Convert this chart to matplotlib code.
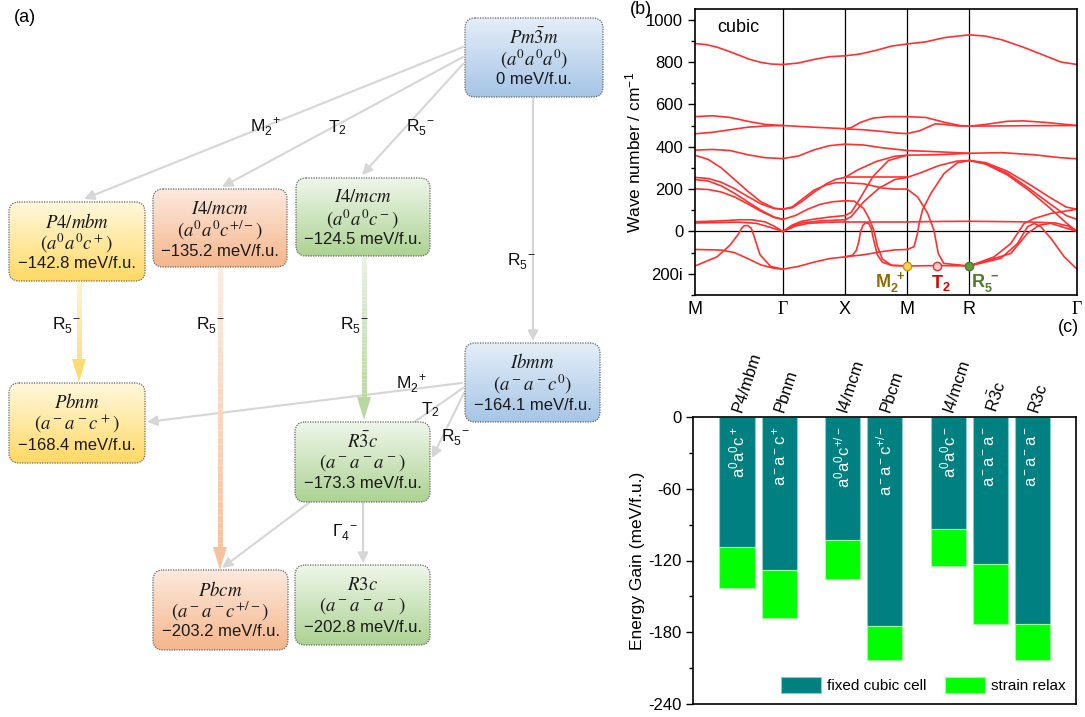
import numpy as np
import matplotlib
matplotlib.use("Agg")
import matplotlib.pyplot as plt
from matplotlib.patches import FancyBboxPatch, FancyArrowPatch, Polygon
from matplotlib.collections import LineCollection
from matplotlib.colors import LinearSegmentedColormap

plt.rcParams['font.family'] = ['Liberation Sans', 'DejaVu Sans']
plt.rcParams['mathtext.fontset'] = 'custom'
plt.rcParams['mathtext.rm'] = 'Liberation Sans'
plt.rcParams['mathtext.it'] = 'Liberation Sans:italic'
plt.rcParams['mathtext.bf'] = 'Liberation Sans:bold'
plt.rcParams['axes.unicode_minus'] = False

# ---------------- data, panel (a)
phase_names = [r'$Pm\bar{3}m$', r'$P4/mbm$', r'$I4/mcm$', r'$I4/mcm$', r'$Ibmm$',
               r'$Pbnm$', r'$R\bar{3}c$', r'$Pbcm$', r'$R3c$']
phase_tilts = [r'$(a^0a^0a^0)$', r'$(a^0a^0c^+)$', r'$(a^0a^0c^{+/-})$', r'$(a^0a^0c^-)$',
               r'$(a^-a^-c^0)$', r'$(a^-a^-c^+)$', r'$(a^-a^-a^-)$', r'$(a^-a^-c^{+/-})$',
               r'$(a^-a^-a^-)$']
phase_energy = [0, -142.8, -135.2, -124.5, -164.1, -168.4, -173.3, -203.2, -202.8]
phase_color = ['blue', 'yellow', 'orange', 'green', 'blue', 'yellow', 'green', 'orange', 'green']

# ---------------- data, panel (b): bands per path segment, (fraction, cm-1)
k_sym = [0, 0.7071, 1.2071, 1.7071, 2.2071, 3.0731]
k_labels = ['M', 'Γ', 'X', 'M', 'R', 'Γ']

seg_M_G = [
    [(0, 887), (0.125, 882), (0.25, 870), (0.375, 852), (0.5, 832), (0.625, 812), (0.75, 798), (0.875, 790), (1, 788)],
    [(0, 542), (0.2, 546), (0.4, 538), (0.6, 520), (0.8, 505), (1, 500)],
    [(0, 461), (0.2, 468), (0.4, 480), (0.6, 492), (0.8, 498), (1, 500)],
    [(0, 384), (0.2, 387), (0.4, 382), (0.6, 362), (0.8, 348), (1, 344)],
    [(0, 360), (0.15, 340), (0.3, 300), (0.45, 245), (0.6, 190), (0.75, 140), (0.9, 110), (1, 105)],
    [(0, 255), (0.15, 250), (0.3, 232), (0.45, 202), (0.6, 165), (0.75, 130), (0.9, 108), (1, 105)],
    [(0, 245), (0.15, 238), (0.3, 215), (0.45, 180), (0.6, 140), (0.75, 100), (0.9, 68), (1, 57)],
    [(0, 201), (0.15, 198), (0.3, 186), (0.45, 163), (0.6, 130), (0.75, 95), (0.9, 66), (1, 57)],
    [(0, 46), (0.3, 50), (0.5, 55), (0.65, 55), (0.8, 45), (0.9, 25), (1, 0)],
    [(0, 40), (0.3, 42), (0.5, 44), (0.7, 38), (0.85, 20), (1, 0)],
    [(0, -85), (0.3, -88), (0.45, -100), (0.6, -128), (0.75, -158), (0.9, -174), (1, -178)],
    [(0, -163), (0.25, -120), (0.4, -64), (0.5, -9), (0.53, 15), (0.56, 27), (0.6, 28), (0.64, 15),
     (0.67, -20), (0.7, -60), (0.74, -110), (0.86, -165), (1, -178)],
]
seg_G_X = [
    [(0, 788), (0.25, 795), (0.5, 812), (0.75, 825), (1, 829)],
    [(0, 500), (0.5, 492), (1, 485)],
    [(0, 344), (0.25, 356), (0.5, 385), (0.75, 405), (1, 412)],
    [(0, 105), (0.15, 112), (0.3, 140), (0.5, 185), (0.7, 225), (0.85, 246), (1, 255)],
    [(0, 105), (0.15, 116), (0.3, 150), (0.5, 195), (0.7, 220), (0.85, 230), (1, 230)],
    [(0, 57), (0.2, 75), (0.4, 105), (0.6, 128), (0.8, 140), (1, 145)],
    [(0, 0), (0.15, 30), (0.3, 48), (0.5, 58), (0.75, 68), (1, 75)],
    [(0, 0), (0.15, 25), (0.3, 40), (0.6, 50), (1, 55)],
    [(0, 0), (0.2, 25), (0.4, 38), (0.7, 43), (1, 45)],
    [(0, -178), (0.25, -165), (0.5, -145), (0.75, -128), (1, -120)],
]
seg_X_M = [
    [(0, 829), (0.25, 838), (0.5, 855), (0.75, 875), (1, 885)],
    [(0, 485), (0.1, 490), (0.25, 515), (0.45, 535), (0.7, 542), (1, 542)],
    [(0, 484), (0.3, 480), (0.6, 472), (0.85, 464), (1, 462)],
    [(0, 412), (0.3, 408), (0.6, 395), (1, 382)],
    [(0, 255), (0.2, 290), (0.5, 330), (0.8, 355), (1, 360)],
    [(0, 255), (0.5, 255), (1, 255)],
    [(0, 230), (0.3, 225), (0.6, 205), (0.8, 200), (1, 200)],
    [(0, 75), (0.1, 90), (0.25, 160), (0.45, 260), (0.7, 335), (1, 360)],
    [(0, 55), (0.1, 70), (0.3, 140), (0.55, 205), (0.8, 245), (1, 255)],
    [(0, 145), (0.15, 143), (0.3, 108), (0.38, 65), (0.43, 30), (0.47, 0), (0.52, -70), (0.6, -130), (0.75, -160), (1, -163)],
    [(0, 45), (0.5, 45), (1, 45)],
    [(0, -120), (0.3, -110), (0.6, -95), (0.8, -87), (1, -85)],
    [(0, -120), (0.12, -112), (0.18, -90), (0.22, -50), (0.25, 0), (0.29, 30), (0.33, 40), (0.38, 38),
     (0.42, 15), (0.46, -40), (0.52, -110), (0.6, -145), (0.75, -160), (1, -163)],
]
seg_M_R = [
    [(0, 885), (0.3, 895), (0.6, 915), (1, 928)],
    [(0, 542), (0.3, 538), (0.6, 515), (0.85, 500), (1, 497)],
    [(0, 462), (0.2, 475), (0.45, 508), (0.6, 505), (0.8, 498), (1, 497)],
    [(0, 382), (0.5, 376), (1, 369)],
    [(0, 360), (0.5, 362), (1, 369)],
    [(0, 255), (0.2, 275), (0.5, 310), (0.8, 332), (1, 335)],
    [(0, 200), (0.17, 162), (0.33, 85), (0.43, 6), (0.5, -104), (0.59, -151), (1, -163)],
    [(0, -85), (0.11, -72), (0.166, -9), (0.193, 38), (0.246, 101), (0.38, 179), (0.594, 274), (0.807, 324), (1, 335)],
    [(0, 45), (0.5, 47), (1, 48)],
    [(0, -163), (0.5, -161), (1, -163)],
]
seg_R_G = [
    [(0, 928), (0.15, 922), (0.3, 905), (0.5, 870), (0.7, 830), (0.85, 800), (1, 788)],
    [(0, 497), (0.15, 505), (0.35, 520), (0.5, 522), (0.7, 515), (1, 500)],
    [(0, 497), (0.5, 499), (1, 500)],
    [(0, 369), (0.3, 372), (0.6, 362), (0.85, 348), (1, 343)],
    [(0, 335), (0.15, 325), (0.35, 285), (0.55, 225), (0.75, 160), (0.9, 115), (1, 105)],
    [(0, 335), (0.15, 320), (0.35, 275), (0.55, 205), (0.75, 130), (0.9, 75), (1, 57)],
    [(0, 335), (0.15, 318), (0.35, 268), (0.55, 195), (0.75, 110), (0.9, 40), (1, 0)],
    [(0, 48), (0.4, 46), (0.55, 45), (0.8, 40), (0.92, 25), (1, 0)],
    [(0, -163), (0.23, -120), (0.385, -57), (0.447, -9), (0.509, 38), (0.602, 61), (0.758, 85), (1, 105)],
    [(0, -163), (0.292, -127), (0.447, -57), (0.54, 22), (0.602, 38), (0.665, 22), (0.758, -33), (0.882, -120), (1, -178)],
    [(0, -163), (0.385, -104), (0.54, -9), (0.65, 30), (0.758, 38), (1, 0)],
]
segments = [seg_M_G, seg_G_X, seg_X_M, seg_M_R, seg_R_G]

soft_labels = [r'M$_\mathbf{2}^{\;\;\mathbf{+}}$', r'T$_\mathbf{2}$', r'R$_\mathbf{5}^{\;\;\mathbf{-}}$']
soft_k = [1.7071, 1.95, 2.2071]
soft_E = [-163, -163, -163]

# ---------------- data, panel (c)
phases_c = ['P4/mbm', 'Pbnm', 'I4/mcm', 'Pbcm', 'I4/mcm', r'R$\bar{\mathrm{3}}$c', 'R3c']
tilts_c = [r'a$^0$a$^0$c$^+$', r'a$^-$a$^-$c$^+$', r'a$^0$a$^0$c$^{+/-}$', r'a$^-$a$^-$c$^{+/-}$',
           r'a$^0$a$^0$c$^-$', r'a$^-$a$^-$a$^-$', r'a$^-$a$^-$a$^-$']
fixed_cell = [-109, -128, -103, -175, -94, -123, -173]
strain_relax = [-142.8, -168.4, -135.2, -203.2, -124.5, -173.3, -202.8]
bar_pos = [1, 2, 3.5, 4.5, 6, 7, 8]

W, H = 1085, 717
fig = plt.figure(figsize=(W / 100, H / 100), dpi=100)

# ================= panel (a)
axa = fig.add_axes([0, 0, 640 / W, 1])
axa.axis('off')

fills = {'blue': ('#e4eef8', '#a6c5e6'), 'yellow': ('#fff8dc', '#ffd966'),
         'orange': ('#fde9de', '#f5b68b'), 'green': ('#eef6e9', '#add393')}
box_xy = [(465, 18, 603, 97), (9, 202, 145, 281), (153, 189, 287, 267), (296, 178, 430, 256),
          (465, 343, 600, 422), (9, 383, 145, 463), (295, 422, 430, 502), (153, 570, 288, 650),
          (295, 565, 430, 645)]

gray = '#d6d6d6'


def gray_arrow(p0, p1):
    axa.add_patch(FancyArrowPatch(p0, p1, arrowstyle='-|>', mutation_scale=15, color=gray,
                                  lw=1.5, shrinkA=0, shrinkB=0, zorder=1))


def grad_arrow(x, y0, y1, c0, c1):
    n = 40
    ys = np.linspace(y0, y1 - 20, n + 1)
    segs = [[(x, ys[i]), (x, ys[i + 1])] for i in range(n)]
    cmap = LinearSegmentedColormap.from_list('a', [c0, c1])
    axa.add_collection(LineCollection(segs, colors=cmap(np.linspace(0, 1, n)), linewidths=3.6,
                                      capstyle='butt', zorder=1))
    axa.add_patch(Polygon([(x - 7, y1 - 23), (x + 7, y1 - 23), (x, y1)], closed=True, fc=c1,
                          ec='none', zorder=1))


# thin arrows
gray_arrow((463, 47), (84, 199))
gray_arrow((463, 57), (222, 187))
gray_arrow((463, 64), (362, 175))
gray_arrow((533, 98), (533, 341))
gray_arrow((462, 383), (147, 422))
axa.plot([463, 413], [388, 423], color=gray, lw=1.5, zorder=1)
gray_arrow((464, 393), (432, 458))
gray_arrow((310, 502), (222, 568))
gray_arrow((363, 502), (363, 563))

# thick arrows
grad_arrow(79, 282, 382, '#fff2c6', '#ffdc70')
grad_arrow(220, 268, 570, '#fdebe0', '#f7c2a0')
grad_arrow(364, 257, 420, '#e6f1de', '#b7d9a0')

lab_kw = dict(fontsize=12.5, ha='center', va='center', color='#111111')
axa.text(265, 128, r'M$_2^{\;\;+}$', **lab_kw)
axa.text(337, 128, r'T$_2$', **lab_kw)
axa.text(420, 128, r'R$_5^{\;\;-}$', **lab_kw)
axa.text(521, 262, r'R$_5^{\;\;-}$', **lab_kw)
axa.text(66, 326, r'R$_5^{\;\;-}$', **lab_kw)
axa.text(210, 326, r'R$_5^{\;\;-}$', **lab_kw)
axa.text(354, 326, r'R$_5^{\;\;-}$', **lab_kw)
axa.text(411, 385, r'M$_2^{\;\;+}$', **lab_kw)
axa.text(430, 410, r'T$_2$', **lab_kw)
axa.text(455, 438, r'R$_5^{\;\;-}$', **lab_kw)
axa.text(345, 533, r'Γ$_4^{\;\;-}$', **lab_kw)

for (x0, y0, x1, y1), nm, tl, en, col in zip(box_xy, phase_names, phase_tilts, phase_energy, phase_color):
    patch = FancyBboxPatch((x0, y0), x1 - x0, y1 - y0, boxstyle='round,pad=0,rounding_size=10',
                           fc='none', ec='#666666', lw=0.9, ls=(0, (1, 1)), zorder=4)
    axa.add_patch(patch)
    cmap = LinearSegmentedColormap.from_list('g', fills[col])
    im = axa.imshow(np.linspace(0, 1, 64).reshape(-1, 1), cmap=cmap, extent=(x0, x1, y1, y0),
                    aspect='auto', zorder=3, interpolation='bilinear')
    im.set_clip_path(patch)
    xc = (x0 + x1) / 2
    axa.text(xc, y0 + 20, nm, fontsize=13.5, ha='center', va='center', math_fontfamily='stix',
             color='#1a1a1a', zorder=5)
    axa.text(xc, y0 + 41, tl, fontsize=13.5, ha='center', va='center', math_fontfamily='stix',
             color='#1a1a1a', zorder=5)
    etxt = '0 meV/f.u.' if en == 0 else f'{en:.1f} meV/f.u.'.replace('-', '\u2212')
    axa.text(xc, y0 + 62, etxt, fontsize=12, ha='center', va='center', color='#1a1a1a', zorder=5)

axa.set_xlim(0, 640)
axa.set_ylim(H, 0)

# ================= panel (b)
axb = fig.add_axes([695 / W, 1 - 295 / H, (1077 - 695) / W, (295 - 9) / H])
for i, seg in enumerate(segments):
    k0, k1 = k_sym[i], k_sym[i + 1]
    for band in seg:
        f, e = zip(*band)
        axb.plot(k0 + np.array(f) * (k1 - k0), e, color='#ff3030', lw=1.2, zorder=2)
for k in k_sym[1:-1]:
    axb.axvline(k, color='black', lw=0.9, zorder=1)
axb.axhline(0, color='black', lw=0.9, zorder=1)

face = ['#f8d25a', '#ffc8c8', '#5e9b3a']
edge = ['#c99a00', '#e83030', '#4a7a2a']
tcol = ['#8c6d00', '#d40000', '#4a7a2a']
for lab, k, e, fc, ec, tc, ha, dx in zip(soft_labels, soft_k, soft_E, face, edge, tcol,
                                         ['right', 'center', 'left'], [-0.02, 0.03, 0.015]):
    axb.plot(k, e, 'o', ms=6, mfc=fc, mec=ec, mew=1, zorder=4)
    axb.text(k + dx, -242, lab, color=tc, fontsize=13, fontweight='bold', ha=ha, va='center')

axb.set_xlim(k_sym[0], k_sym[-1])
axb.set_ylim(-300, 1050)
axb.set_xticks(k_sym)
axb.set_xticklabels(k_labels, fontsize=13)
for t, lab in zip(axb.get_xticklabels(), k_labels):
    if lab == 'Γ':
        t.set_fontfamily('Liberation Serif')
axb.tick_params(axis='x', length=0, pad=4)
axb.set_yticks([-200, 0, 200, 400, 600, 800, 1000])
axb.set_yticklabels(['200i', '0', '200', '400', '600', '800', '1000'], fontsize=12)
axb.set_yticks(np.arange(-300, 1001, 100), minor=True)
axb.tick_params(axis='y', which='major', length=5, width=1)
axb.tick_params(axis='y', which='minor', length=3, width=1)
axb.set_ylabel('Wave number / cm$^{-1}$', fontsize=12.5, labelpad=2)
axb.text(0.058, 0.935, 'cubic', transform=axb.transAxes, fontsize=13, va='center')
for s in axb.spines.values():
    s.set_linewidth(1.2)

# ================= panel (c)
axc = fig.add_axes([693 / W, 1 - 704 / H, (1076 - 693) / W, (704 - 417) / H])
fixed = np.array(fixed_cell)
relax = np.array(strain_relax) - fixed
axc.bar(bar_pos, fixed, width=0.83, color='#008080', edgecolor='#8ccaca', lw=0.8,
        label='fixed cubic cell', zorder=2)
axc.bar(bar_pos, relax, bottom=fixed, width=0.83, color='#00ff00', edgecolor='#9cff9c', lw=0.8,
        label='strain relax', zorder=2)
for x, t in zip(bar_pos, tilts_c):
    axc.text(x, -8, t, rotation=90, color='white', ha='center', va='top', fontsize=12, zorder=3)

axc.set_xlim(-0.04, 9.02)
axc.set_ylim(-240, 0)
axc.set_xticks(bar_pos)
axc.set_xticklabels(phases_c, rotation=72, rotation_mode='anchor', ha='left', va='center',
                    fontsize=12)
axc.xaxis.tick_top()
axc.tick_params(axis='x', length=0, pad=4)
axc.set_yticks([0, -60, -120, -180, -240])
axc.set_yticks(np.arange(-240, 1, 30), minor=True)
axc.tick_params(axis='y', labelsize=12, length=5, width=1)
axc.tick_params(axis='y', which='minor', length=3, width=1)
axc.set_ylabel('Energy Gain (meV/f.u.)', fontsize=12.5, labelpad=2)
for s in axc.spines.values():
    s.set_linewidth(1.2)
axc.legend(loc='lower right', bbox_to_anchor=(1.0, 0.0), ncol=2, frameon=False, fontsize=11,
           handlelength=2.6, handleheight=1.2, columnspacing=1.2, handletextpad=0.4,
           borderaxespad=0.3)

fig.text(25 / W, 1 - 18 / H, '(a)', fontsize=13, ha='center', va='center')
fig.text(641 / W, 1 - 10 / H, '(b)', fontsize=13, ha='center', va='center')
fig.text(1068 / W, 1 - 327 / H, '(c)', fontsize=13, ha='center', va='center')

fig.savefig('out.png', dpi=100)
